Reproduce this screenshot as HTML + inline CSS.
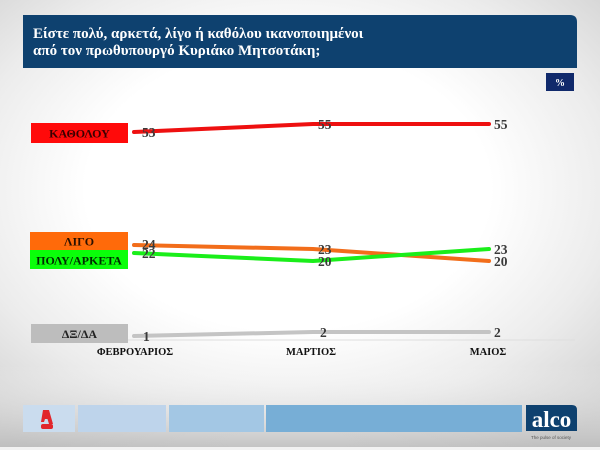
<!DOCTYPE html>
<html>
<head>
<meta charset="utf-8">
<style>
html,body{margin:0;padding:0;}
body{width:600px;height:450px;overflow:hidden;position:relative;
background:radial-gradient(ellipse 75% 70% at 48% 42%, #ffffff 0%, #ffffff 45%, #ececec 72%, #cfcfcf 100%);
font-family:"Liberation Serif",serif;}
svg{position:absolute;left:0;top:0;}
</style>
</head>
<body>
<svg width="600" height="450" viewBox="0 0 600 450" xmlns="http://www.w3.org/2000/svg">
  <defs>
    <linearGradient id="bot" x1="0" y1="0" x2="0" y2="1">
      <stop offset="0" stop-color="#ffffff" stop-opacity="0"/>
      <stop offset="1" stop-color="#b8b8b8" stop-opacity="0.7"/>
    </linearGradient>
  </defs>
  <rect x="0" y="365" width="600" height="82" fill="url(#bot)"/>
  <rect x="0" y="447" width="600" height="3" fill="#f2f2f2"/>

  <!-- Title box -->
  <path d="M23 15 H570 Q577 15 577 22 V68 H23 Z" fill="#0e416f"/>
  <text x="33" y="38" font-family="Liberation Serif, serif" font-weight="bold" font-size="15" fill="#ffffff">Είστε πολύ, αρκετά, λίγο ή καθόλου ικανοποιημένοι</text>
  <text x="33" y="55" font-family="Liberation Serif, serif" font-weight="bold" font-size="15" fill="#ffffff">από τον πρωθυπουργό Κυριάκο Μητσοτάκη;</text>

  <!-- % box -->
  <rect x="546" y="73" width="28" height="18" fill="#10296b"/>
  <text x="560" y="86" text-anchor="middle" font-family="Liberation Serif, serif" font-weight="bold" font-size="10" fill="#ffffff">%</text>

  <!-- Legend boxes -->
  <rect x="31" y="123" width="97" height="20" fill="#ff0a0a"/>
  <text x="79.5" y="137.5" text-anchor="middle" font-family="Liberation Serif, serif" font-weight="bold" font-size="12" fill="#3a0000">ΚΑΘΟΛΟΥ</text>

  <rect x="30" y="232" width="98" height="18" fill="#ff6a0a"/>
  <text x="79" y="245.5" text-anchor="middle" font-family="Liberation Serif, serif" font-weight="bold" font-size="12" fill="#2a1000">ΛΙΓΟ</text>
  <rect x="30" y="250" width="98" height="19" fill="#0aff0a"/>
  <text x="79" y="264.5" text-anchor="middle" font-family="Liberation Serif, serif" font-weight="bold" font-size="12" fill="#002a00">ΠΟΛΥ/ΑΡΚΕΤΑ</text>

  <rect x="31" y="324" width="97" height="19" fill="#bdbdbd"/>
  <text x="79.5" y="338" text-anchor="middle" font-family="Liberation Serif, serif" font-weight="bold" font-size="12" fill="#222">ΔΞ/ΔΑ</text>

  <!-- axis line -->
  <line x1="128" y1="340" x2="575" y2="340" stroke="#dedede" stroke-width="1"/>

  <!-- Series lines -->
  <polyline points="134,132 313,124 489,124" fill="none" stroke="#ee1010" stroke-width="4" stroke-linecap="round" stroke-linejoin="round"/>
  <polyline points="134,245 313,249 489,261" fill="none" stroke="#f26d1a" stroke-width="4" stroke-linecap="round" stroke-linejoin="round"/>
  <polyline points="134,253 313,261 489,249" fill="none" stroke="#1aee1a" stroke-width="4" stroke-linecap="round" stroke-linejoin="round"/>
  <polyline points="134,336 313,332 489,332" fill="none" stroke="#c4c4c4" stroke-width="4" stroke-linecap="round" stroke-linejoin="round"/>

  <!-- Data labels -->
  <g font-family="Liberation Serif, serif" font-weight="bold" font-size="13.5" fill="#3a3a3a">
    <text x="142" y="137">53</text>
    <text x="142" y="249">24</text>
    <text x="142" y="258">22</text>
    <text x="143" y="341">1</text>

    <text x="318" y="129">55</text>
    <text x="318" y="254">23</text>
    <text x="318" y="266">20</text>
    <text x="320" y="337">2</text>

    <text x="494" y="129">55</text>
    <text x="494" y="254">23</text>
    <text x="494" y="266">20</text>
    <text x="494" y="337">2</text>
  </g>

  <!-- Category labels -->
  <g font-family="Liberation Serif, serif" font-weight="bold" font-size="10.5" fill="#111" text-anchor="middle">
    <text x="135" y="355">ΦΕΒΡΟΥΑΡΙΟΣ</text>
    <text x="311" y="355">ΜΑΡΤΙΟΣ</text>
    <text x="488" y="355">ΜΑΙΟΣ</text>
  </g>

  <!-- Footer -->
  <rect x="23" y="405" width="52" height="27" fill="#cadcee"/>
  <rect x="78" y="405" width="88" height="27" fill="#bed4eb"/>
  <rect x="169" y="405" width="95" height="27" fill="#a3c7e4"/>
  <rect x="266" y="405" width="256" height="27" fill="#77aed6"/>
  <!-- alpha logo -->
  <path d="M43 410 L49 410 L53 424 L49 424 L47.5 419 L45 419 L44 422 L41 422 Z" fill="#e1262c"/>
  <rect x="41" y="424" width="12" height="5" rx="2" fill="#e1262c"/>
  <!-- alco logo -->
  <path d="M526 405 H572 Q577 405 577 410 V431 H526 Z" fill="#0e416f"/>
  <text x="551.5" y="427" text-anchor="middle" font-family="Liberation Serif, serif" font-weight="bold" font-size="23" fill="#ffffff">alco</text>
  <text x="551" y="439" text-anchor="middle" font-family="Liberation Sans, sans-serif" font-size="4.5" fill="#555">The pulse of society</text>
</svg>
</body>
</html>
